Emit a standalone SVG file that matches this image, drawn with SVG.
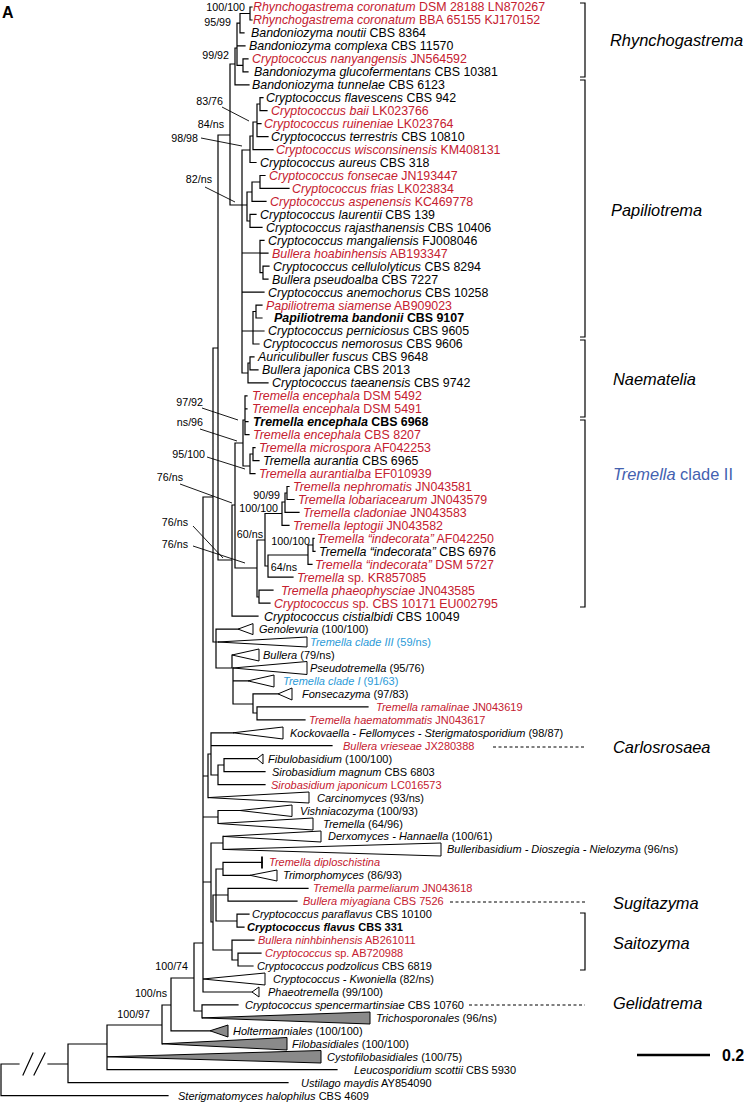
<svg xmlns="http://www.w3.org/2000/svg" width="744" height="1105" viewBox="0 0 744 1105">
<style>
text{font-family:"Liberation Sans",Arial,sans-serif;fill:#000}
.t{fill:none;stroke:#000;stroke-width:1.2;stroke-linecap:square}
.ld{fill:none;stroke:#000;stroke-width:0.9}
.dash{fill:none;stroke:#000;stroke-width:1;stroke-dasharray:3 2.5}
.br{fill:none;stroke:#000;stroke-width:1.2}
.tri{fill:#fff;stroke:#000;stroke-width:1}
.trig{fill:#8a8a8a;stroke:#000;stroke-width:1}
.u{font-size:12.4px}
.l{font-size:11px}
.s{font-size:10.7px;text-anchor:end}
.i{font-style:italic}
.r{fill:#c5202f}
.bl{fill:#2a9ad8}
.bd{font-weight:bold}
.cl{font-size:16.4px}
</style>
<rect width="744" height="1105" fill="#fff"/>
<text x="2" y="18" style="font-size:16px;font-weight:bold">A</text>
<g id="connectors">
<path class="t" d="M250,7V20M250,7H252M250,20H252
M240,13.5V32.9M240,13.5H250M240,32.9H244
M243,58.8V71.8M243,58.8H248M243,71.8H248
M237,23.2V65.3M237,23.2H240M237,45.9H245M237,65.3H243
M235,48V84.8M235,48H237M235,84.8H249
M230,64V205M230,64H235M230,205H247
M260,97.7V110.7M260,97.7H263M260,110.7H267
M257,104V136.6M257,104H260M257,123.6H261M257,136.6H268
M253,122V149.6M253,122H257M253,149.6H273
M250,136V162.5M250,136H253M250,162.5H256
M242,150V373M242,150H250
M260,175.5V188.4M260,175.5H265M260,188.4H289
M252,182V201.4M252,182H260M252,201.4H266
M250,214.4V227.3M250,214.4H256M250,227.3H262
M247,192V221M247,192H252M247,221H250
M263,266.2V279.2M263,266.2H269M263,279.2H268
M260,240.3V272.7M260,240.3H264M260,253.2H268M260,272.7H263M242,253H260
M242,292.1H264
M256,305.1V318M256,305.1H262M256,318H262
M253,311.5V344M253,311.5H256M242,331H264M253,344H259
M250,356.9V369.9M250,356.9H254M250,369.9H258
M248,363V382.8M248,363H250M248,382.8H268M242,373H248
M218,135V560M218,135H230
M245,395.8V434.7M245,395.8H247M245,408.8H247M245,421.7H248M245,434.7H249
M253,447.6V460.6M253,447.6H255M253,460.6H259
M250,454V473.6M250,454H253M250,473.6H255
M243,420V466M243,420H245M243,466H250
M235,443H243
M287,486.5V499.5M287,486.5H289M287,499.5H294
M285,493V512.4M285,493H287M285,512.4H299
M282,502V525.4M282,502H285M282,525.4H289
M313,538.4V551.3M313,538.4H314M313,551.3H315
M308,545V564.3M308,545H313M308,564.3H312
M268,555V577.2M268,555H308M268,577.2H293
M265,513.5V566M265,513.5H282M265,566H268
M259,590.2V603.2M259,590.2H273M259,603.2H270
M257,540V597M257,540H265M257,597H259
M235,443V568M235,568H257
M232,505V616.1M232,505H235M232,616.1H258M218,560H232
M213,348V642M213,348H218M213,642H218
M216,629.1V668M216,629.1H238M216,668H232
M232,655V668M233,668V704M233,680.9H248M233,704H253
M253,693.9V713M253,693.9H278M253,713H257
M257,706.8V719.8M257,706.8H368M257,719.8H305
M203,497V992M203,497H213
M224,758.7V771.6M224,758.7H257M224,771.6H265
M218,765V784.6M218,765H224M218,784.6H265
M211,732.8V775M211,732.8H233M211,745.7H332M211,775H218
M208,754V797.6M208,754H211M203,776H208
M218,810.5V823.5M218,810.5H240M203,817H218
M223,836.4V849.4
M223,862.4V875.3M223,862.4H262M223,875.3H250
M228,888.3V901.2M228,888.3H308M228,901.2H297
M237,914.2V927.2M237,914.2H249M237,927.2H244
M216,869V921M216,869H223M216,895H228M216,921H237
M238,953.1V966M238,953.1H261M238,966H253
M232,940.1V960M232,940.1H254M232,960H238
M213,895V950M213,895H216M213,950H232
M211,843V922M211,843H223M211,922H213M203,882H211
M203,992H252
M202,1004.9V1017.9M202,1004.9H238
M194,943V1011M194,943H203M194,1011H202
M171,978V1030.8M171,978H194M171,1030.8H210
M162,1005V1043.8M162,1005H171
M107,1025V1069.7M107,1025H162M107,1069.7H337
M68,1044V1082.7M68,1044H107M68,1082.7H288
M1,1064V1095.6M1,1064H19M48,1064H68M1,1095.6H168
M23,1075L33,1053M34,1075L45,1053"/>
<path class="t" style="stroke-width:1.8" d="M262,857.5V867.5"/>
<path class="ld" d="M222,107L249,121M201,138L242,146M205,187L235,202M202,408L238,420M200,429L237,441M207,457L245,469M180,484L232,503M193,526L223,558M193,546L245,563"/>
<path class="br" d="M580,3H585V77H580M580,80H585V337H580M580,340H585V417H580M580,420H585V607H580M580,913H585V970H580"/>
<path class="dash" d="M493,747H585M450,902H585M469,1005H585"/>
<path d="M637,1055H710" stroke="#000" stroke-width="2.6"/>
</g>
<g id="supports" class="s">
<text class="s" x="245" y="10.8">100/100</text>
<text class="s" x="231" y="25.8">95/99</text>
<text class="s" x="229" y="58.8">99/92</text>
<text class="s" x="223" y="104.8">83/76</text>
<text class="s" x="224" y="127.8">84/ns</text>
<text class="s" x="198" y="141.8">98/98</text>
<text class="s" x="212" y="182.8">82/ns</text>
<text class="s" x="203" y="405.8">97/92</text>
<text class="s" x="203" y="425.8">ns/96</text>
<text class="s" x="205" y="457.8">95/100</text>
<text class="s" x="183" y="480.8">76/ns</text>
<text class="s" x="280" y="498.8">90/99</text>
<text class="s" x="278" y="511.8">100/100</text>
<text class="s" x="188" y="525.8">76/ns</text>
<text class="s" x="263" y="537.8">60/ns</text>
<text class="s" x="310" y="544.8">100/100</text>
<text class="s" x="188" y="547.8">76/ns</text>
<text class="s" x="297" y="570.8">64/ns</text>
<text class="s" x="188" y="969.8">100/74</text>
<text class="s" x="167" y="996.8">100/ns</text>
<text class="s" x="150" y="1017.8">100/97</text>
</g>
<g id="leaf-00"><text class="u r" x="253" y="11.4"><tspan class="i">Rhynchogastrema coronatum</tspan> DSM 28188 LN870267</text></g>
<g id="leaf-01"><text class="u r" x="253" y="24.4"><tspan class="i">Rhynchogastrema coronatum</tspan> BBA 65155 KJ170152</text></g>
<g id="leaf-02"><text class="u" x="251" y="37.3"><tspan class="i">Bandoniozyma noutii</tspan> CBS 8364</text></g>
<g id="leaf-03"><text class="u" x="249" y="50.3"><tspan class="i">Bandoniozyma complexa</tspan> CBS 11570</text></g>
<g id="leaf-04"><text class="u r" x="252" y="63.2"><tspan class="i">Cryptococcus nanyangensis</tspan> JN564592</text></g>
<g id="leaf-05"><text class="u" x="254" y="76.2"><tspan class="i">Bandoniozyma glucofermentans</tspan> CBS 10381</text></g>
<g id="leaf-06"><text class="u" x="252" y="89.2"><tspan class="i">Bandoniozyma tunnelae</tspan> CBS 6123</text></g>
<g id="leaf-07"><text class="u" x="266" y="102.1"><tspan class="i">Cryptococcus flavescens</tspan> CBS 942</text></g>
<g id="leaf-08"><text class="u r" x="271" y="115.1"><tspan class="i">Cryptococcus baii</tspan> LK023766</text></g>
<g id="leaf-09"><text class="u r" x="264" y="128"><tspan class="i">Cryptococcus ruineniae</tspan> LK023764</text></g>
<g id="leaf-10"><text class="u" x="271" y="141"><tspan class="i">Cryptococcus terrestris</tspan> CBS 10810</text></g>
<g id="leaf-11"><text class="u r" x="276" y="154"><tspan class="i">Cryptococcus wisconsinensis</tspan> KM408131</text></g>
<g id="leaf-12"><text class="u" x="260" y="166.9"><tspan class="i">Cryptococcus aureus</tspan> CBS 318</text></g>
<g id="leaf-13"><text class="u r" x="269" y="179.9"><tspan class="i">Cryptococcus fonsecae</tspan> JN193447</text></g>
<g id="leaf-14"><text class="u r" x="292" y="192.8"><tspan class="i">Cryptococcus frias</tspan> LK023834</text></g>
<g id="leaf-15"><text class="u r" x="270" y="205.8"><tspan class="i">Cryptococcus aspenensis</tspan> KC469778</text></g>
<g id="leaf-16"><text class="u" x="260" y="218.8"><tspan class="i">Cryptococcus laurentii</tspan> CBS 139</text></g>
<g id="leaf-17"><text class="u" x="266" y="231.7"><tspan class="i">Cryptococcus rajasthanensis</tspan> CBS 10406</text></g>
<g id="leaf-18"><text class="u" x="268" y="244.7"><tspan class="i">Cryptococcus mangaliensis</tspan> FJ008046</text></g>
<g id="leaf-19"><text class="u r" x="272" y="257.6"><tspan class="i">Bullera hoabinhensis</tspan> AB193347</text></g>
<g id="leaf-20"><text class="u" x="273" y="270.6"><tspan class="i">Cryptococcus cellulolyticus</tspan> CBS 8294</text></g>
<g id="leaf-21"><text class="u" x="272" y="283.6"><tspan class="i">Bullera pseudoalba</tspan> CBS 7227</text></g>
<g id="leaf-22"><text class="u" x="268" y="296.5"><tspan class="i">Cryptococcus anemochorus</tspan> CBS 10258</text></g>
<g id="leaf-23"><text class="u r" x="266" y="309.5"><tspan class="i">Papiliotrema siamense</tspan> AB909023</text></g>
<g id="leaf-24"><text class="u bd" x="274" y="322.4"><tspan class="i">Papiliotrema bandonii</tspan> CBS 9107</text></g>
<g id="leaf-25"><text class="u" x="268" y="335.4"><tspan class="i">Cryptococcus perniciosus</tspan> CBS 9605</text></g>
<g id="leaf-26"><text class="u" x="263" y="348.4"><tspan class="i">Cryptococcus nemorosus</tspan> CBS 9606</text></g>
<g id="leaf-27"><text class="u" x="258" y="361.3"><tspan class="i">Auriculibuller fuscus</tspan> CBS 9648</text></g>
<g id="leaf-28"><text class="u" x="262" y="374.3"><tspan class="i">Bullera japonica</tspan> CBS 2013</text></g>
<g id="leaf-29"><text class="u" x="272" y="387.2"><tspan class="i">Cryptococcus taeanensis</tspan> CBS 9742</text></g>
<g id="leaf-30"><text class="u r" x="252" y="400.2"><tspan class="i">Tremella encephala</tspan> DSM 5492</text></g>
<g id="leaf-31"><text class="u r" x="252" y="413.2"><tspan class="i">Tremella encephala</tspan> DSM 5491</text></g>
<g id="leaf-32"><text class="u bd" x="253" y="426.1"><tspan class="i">Tremella encephala</tspan> CBS 6968</text></g>
<g id="leaf-33"><text class="u r" x="253" y="439.1"><tspan class="i">Tremella encephala</tspan> CBS 8207</text></g>
<g id="leaf-34"><text class="u r" x="259" y="452"><tspan class="i">Tremella microspora</tspan> AF042253</text></g>
<g id="leaf-35"><text class="u" x="263" y="465"><tspan class="i">Tremella aurantia</tspan> CBS 6965</text></g>
<g id="leaf-36"><text class="u r" x="259" y="478"><tspan class="i">Tremella aurantialba</tspan> EF010939</text></g>
<g id="leaf-37"><text class="u r" x="293" y="490.9"><tspan class="i">Tremella nephromatis</tspan> JN043581</text></g>
<g id="leaf-38"><text class="u r" x="298" y="503.9"><tspan class="i">Tremella lobariacearum</tspan> JN043579</text></g>
<g id="leaf-39"><text class="u r" x="303" y="516.8"><tspan class="i">Tremella cladoniae</tspan> JN043583</text></g>
<g id="leaf-40"><text class="u r" x="293" y="529.8"><tspan class="i">Tremella leptogii</tspan> JN043582</text></g>
<g id="leaf-41"><text class="u r" x="317" y="542.8"><tspan class="i">Tremella “indecorata”</tspan> AF042250</text></g>
<g id="leaf-42"><text class="u" x="319" y="555.7"><tspan class="i">Tremella “indecorata”</tspan> CBS 6976</text></g>
<g id="leaf-43"><text class="u r" x="315" y="568.7"><tspan class="i">Tremella “indecorata”</tspan> DSM 5727</text></g>
<g id="leaf-44"><text class="u r" x="297" y="581.6"><tspan class="i">Tremella</tspan> sp. KR857085</text></g>
<g id="leaf-45"><text class="u r" x="281" y="594.6"><tspan class="i">Tremella phaeophysciae</tspan> JN043585</text></g>
<g id="leaf-46"><text class="u r" x="274" y="607.6"><tspan class="i">Cryptococcus</tspan> sp. CBS 10171 EU002795</text></g>
<g id="leaf-47"><text class="u" x="264" y="620.5"><tspan class="i">Cryptococcus cistialbidi</tspan> CBS 10049</text></g>
<g id="clade-48"><polygon class="tri" points="238,629.1 253,623.6 253,634.6"/><text class="l" x="259" y="633.1"><tspan class="i">Genolevuria</tspan> (100/100)</text></g>
<g id="clade-49"><polygon class="tri" points="218,642 307,637 307,647"/><text class="l bl" x="310" y="646"><tspan class="i">Tremella clade III</tspan> (59/ns)</text></g>
<g id="clade-50"><polygon class="tri" points="232,655 259,649 259,661"/><text class="l" x="263" y="659"><tspan class="i">Bullera</tspan> (79/ns)</text></g>
<g id="clade-51"><polygon class="tri" points="233,668 307,661.5 307,674.5"/><text class="l" x="310" y="672"><tspan class="i">Pseudotremella</tspan> (95/76)</text></g>
<g id="clade-52"><polygon class="tri" points="248,680.9 274,675 274,687"/><text class="l bl" x="283" y="684.9"><tspan class="i">Tremella clade I</tspan> (91/63)</text></g>
<g id="clade-53"><polygon class="tri" points="278,693.9 292,688 292,700"/><text class="l" x="302" y="697.9"><tspan class="i">Fonsecazyma</tspan> (97/83)</text></g>
<g id="leaf-54"><text class="l r" x="376" y="710.8"><tspan class="i">Tremella ramalinae</tspan> JN043619</text></g>
<g id="leaf-55"><text class="l r" x="309" y="723.8"><tspan class="i">Tremella haematommatis</tspan> JN043617</text></g>
<g id="clade-56"><polygon class="tri" points="233,732.8 283,727 283,739"/><text class="l" x="290" y="736.8"><tspan class="i">Kockovaella - Fellomyces - Sterigmatosporidium</tspan> (98/87)</text></g>
<g id="leaf-57"><text class="l r" x="343" y="749.7"><tspan class="i">Bullera vrieseae</tspan> JX280388</text></g>
<g id="clade-58"><polygon class="tri" points="257,758.7 263,754 263,764"/><text class="l" x="268" y="762.7"><tspan class="i">Fibulobasidium</tspan> (100/100)</text></g>
<g id="leaf-59"><text class="l" x="272" y="775.6"><tspan class="i">Sirobasidium magnum</tspan> CBS 6803</text></g>
<g id="leaf-60"><text class="l r" x="271" y="788.6"><tspan class="i">Sirobasidium japonicum</tspan> LC016573</text></g>
<g id="clade-61"><polygon class="tri" points="208,797.6 309,792 309,803"/><text class="l" x="317" y="801.6"><tspan class="i">Carcinomyces</tspan> (93/ns)</text></g>
<g id="clade-62"><polygon class="tri" points="240,810.5 292,805 292,816.5"/><text class="l" x="300" y="814.5"><tspan class="i">Vishniacozyma</tspan> (100/93)</text></g>
<g id="clade-63"><polygon class="tri" points="218,823.5 313,818 313,830"/><text class="l" x="323" y="827.5"><tspan class="i">Tremella</tspan> (64/96)</text></g>
<g id="clade-64"><polygon class="tri" points="223,836.4 321,831 321,842"/><text class="l" x="328" y="840.4"><tspan class="i">Derxomyces - Hannaella</tspan> (100/61)</text></g>
<g id="clade-65"><polygon class="tri" points="223,849.4 441,843 441,856"/><text class="l" x="447" y="853.4"><tspan class="i">Bulleribasidium - Dioszegia - Nielozyma</tspan> (96/ns)</text></g>
<g id="leaf-66"><text class="l r i" x="269" y="866.4">Tremella diploschistina</text></g>
<g id="clade-67"><polygon class="tri" points="250,875.3 277,870 277,881"/><text class="l" x="283" y="879.3"><tspan class="i">Trimorphomyces</tspan> (86/93)</text></g>
<g id="leaf-68"><text class="l r" x="313" y="892.3"><tspan class="i">Tremella parmeliarum</tspan> JN043618</text></g>
<g id="leaf-69"><text class="l r" x="303" y="905.2"><tspan class="i">Bullera miyagiana</tspan> CBS 7526</text></g>
<g id="leaf-70"><text class="l" x="252" y="918.2"><tspan class="i">Cryptococcus paraflavus</tspan> CBS 10100</text></g>
<g id="leaf-71"><text class="l bd" x="247" y="931.2"><tspan class="i">Cryptococcus flavus</tspan> CBS 331</text></g>
<g id="leaf-72"><text class="l r" x="258" y="944.1"><tspan class="i">Bullera ninhbinhensis</tspan> AB261011</text></g>
<g id="leaf-73"><text class="l r" x="265" y="957.1"><tspan class="i">Cryptococcus</tspan> sp. AB720988</text></g>
<g id="leaf-74"><text class="l" x="257" y="970"><tspan class="i">Cryptococcus podzolicus</tspan> CBS 6819</text></g>
<g id="clade-75"><polygon class="tri" points="203,979 265,973 265,985"/><text class="l" x="273" y="983"><tspan class="i">Cryptococcus - Kwoniella</tspan> (82/ns)</text></g>
<g id="clade-76"><polygon class="tri" points="252,992 259,987 259,997"/><text class="l" x="268" y="996"><tspan class="i">Phaeotremella</tspan> (99/100)</text></g>
<g id="leaf-77"><text class="l" x="245" y="1008.9"><tspan class="i">Cryptococcus spencermartinsiae</tspan> CBS 10760</text></g>
<g id="clade-78"><polygon class="trig" points="202,1017.9 370,1012 370,1024"/><text class="l" x="376" y="1021.9"><tspan class="i">Trichosporonales</tspan> (96/ns)</text></g>
<g id="clade-79"><polygon class="trig" points="210,1030.8 228,1025 228,1037"/><text class="l" x="233" y="1034.8"><tspan class="i">Holtermanniales</tspan> (100/100)</text></g>
<g id="clade-80"><polygon class="trig" points="162,1043.8 287,1037.5 287,1050"/><text class="l" x="292" y="1047.8"><tspan class="i">Filobasidiales</tspan> (100/100)</text></g>
<g id="clade-81"><polygon class="trig" points="107,1056.8 321,1050.5 321,1063"/><text class="l" x="327" y="1060.8"><tspan class="i">Cystofilobasidiales</tspan> (100/75)</text></g>
<g id="leaf-82"><text class="l" x="354" y="1073.7"><tspan class="i">Leucosporidium scottii</tspan> CBS 5930</text></g>
<g id="leaf-83"><text class="l" x="301" y="1086.7"><tspan class="i">Ustilago maydis</tspan> AY854090</text></g>
<g id="leaf-84"><text class="l" x="178" y="1099.6"><tspan class="i">Sterigmatomyces halophilus</tspan> CBS 4609</text></g>
<g id="groups">
<text class="cl i" x="610" y="46">Rhynchogastrema</text>
<text class="cl i" x="611" y="216">Papiliotrema</text>
<text class="cl i" x="613" y="385">Naematelia</text>
<text class="cl" x="613" y="480" style="fill:#4361b0"><tspan class="i">Tremella</tspan> clade II</text>
<text class="cl i" x="613" y="753">Carlosrosaea</text>
<text class="cl i" x="613" y="909">Sugitazyma</text>
<text class="cl i" x="613" y="949">Saitozyma</text>
<text class="cl i" x="613" y="1009">Gelidatrema</text>
<text x="722" y="1061" style="font-size:16px;font-weight:bold">0.2</text>
</g>
</svg>
